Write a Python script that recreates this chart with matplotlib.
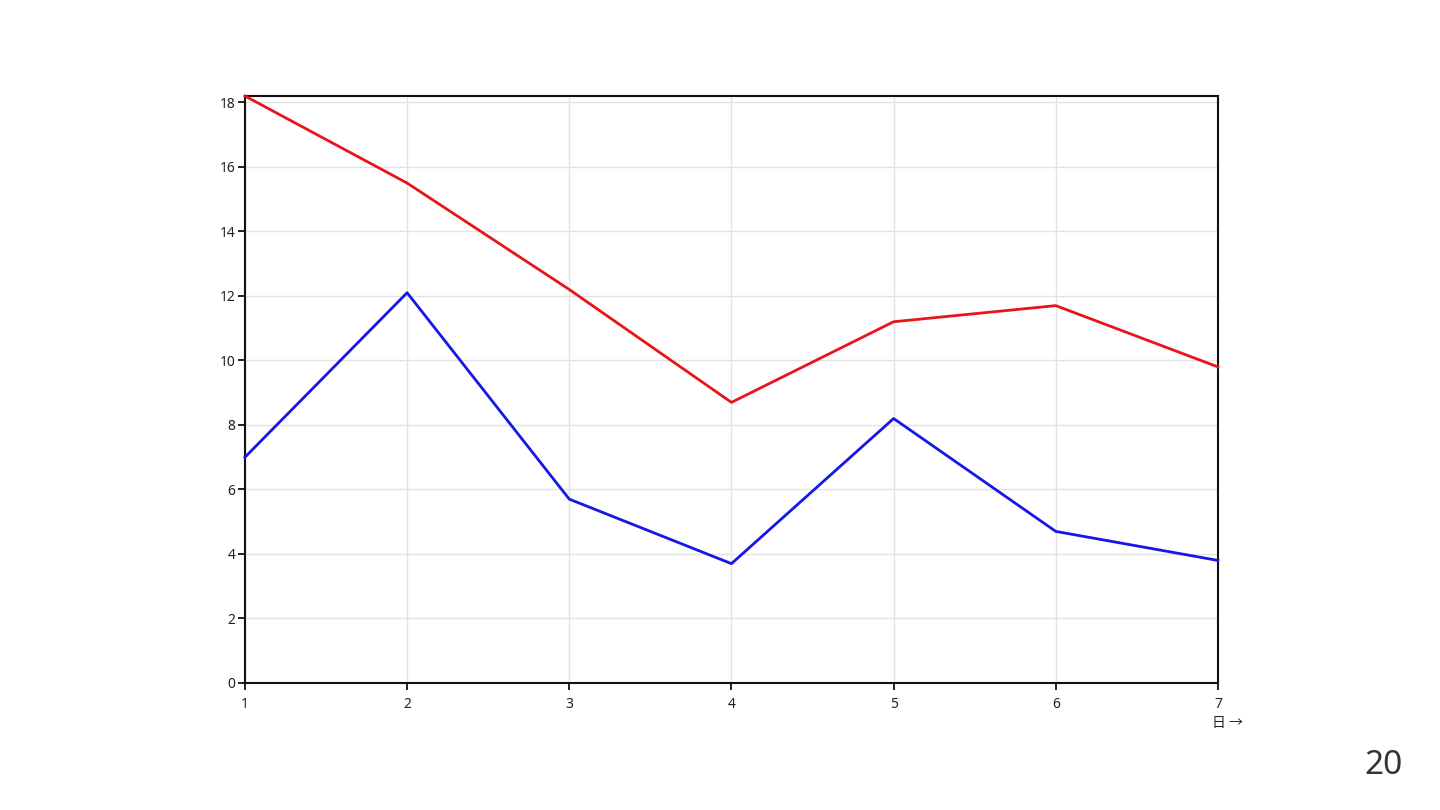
import matplotlib
matplotlib.use("Agg")
import matplotlib.pyplot as plt

plt.rcParams['font.family'] = ['Noto Sans', 'Noto Sans CJK JP', 'DejaVu Sans']

# data
days = [1, 2, 3, 4, 5, 6, 7]
red_vals = [18.2, 15.5, 12.2, 8.7, 11.2, 11.7, 9.8]
blue_vals = [7.0, 12.1, 5.7, 3.7, 8.2, 4.7, 3.8]
y_ticks = [0, 2, 4, 6, 8, 10, 12, 14, 16, 18]
x_label = '日 →'
page_no = '20'

fig = plt.figure(figsize=(14.4, 8.1), dpi=100)
ax = fig.add_axes([0.1701, 0.1568, 0.6757, 0.7247])

ax.plot(days, red_vals, color='#e8141a', lw=2.0, clip_on=False, zorder=3)
ax.plot(days, blue_vals, color='#1616e6', lw=2.0, clip_on=False, zorder=3)

ax.set_xlim(1, 7)
ax.set_ylim(0, max(red_vals))
ax.set_xticks(days)
ax.set_yticks(y_ticks)
ax.grid(True, color='#e3e3e3', lw=1.0)
ax.set_axisbelow(True)

for s in ax.spines.values():
    s.set_color('#111111')
    s.set_linewidth(1.5)
ax.tick_params(axis='both', labelsize=10, length=5, width=1.3,
               color='#111111', labelcolor='#222222')
ax.tick_params(axis='x', pad=5)
ax.tick_params(axis='y', pad=2)

ax.text(1.01, -0.068, x_label, transform=ax.transAxes, ha='center', va='center',
        fontsize=10, color='#222222',
        family=['Noto Sans CJK JP', 'DejaVu Sans'])

fig.text(1383 / 1440, 1 - 765 / 810, page_no, ha='center', va='center',
         fontsize=24, color='#333333')

fig.savefig('out.png', dpi=100, facecolor='white')
